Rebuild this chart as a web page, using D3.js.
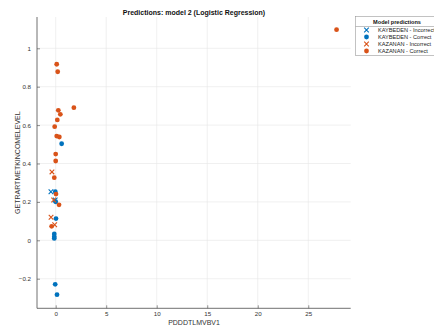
<!DOCTYPE html>
<html><head><meta charset="utf-8">
<script src="https://cdn.jsdelivr.net/npm/d3@7"></script>
<style>body{margin:0;background:#fff}svg{display:block;font-family:"Liberation Sans",Arial,sans-serif}</style>
</head><body>
<svg id="c" width="434" height="333"></svg>
<script>
const xTicks = [0, 5, 10, 15, 20, 25];
const yTicks = [-0.2, 0, 0.2, 0.4, 0.6, 0.8, 1];
const seriesNames = ["KAYBEDEN - Incorrect", "KAYBEDEN - Correct", "KAZANAN - Incorrect", "KAZANAN - Correct"];
const kaybedenIncorrect = [[-0.47, 0.253], [-0.05, 0.21]];
const kaybedenCorrect = [[0.59, 0.503], [-0.04, 0.253], [0.0, 0.201], [0.03, 0.113], [-0.14, 0.033], [-0.14, 0.019], [-0.14, 0.01], [-0.05, -0.229], [0.13, -0.283]];
const kazananIncorrect = [[-0.37, 0.356], [-0.2, 0.21], [-0.46, 0.12], [-0.1, 0.081]];
const kazananCorrect = [[27.8, 1.097], [0.1, 0.917], [0.2, 0.878], [1.8, 0.691], [0.26, 0.677], [0.46, 0.656], [0.16, 0.627], [-0.1, 0.592], [0.1, 0.543], [0.36, 0.538], [0, 0.449], [0, 0.413], [-0.14, 0.326], [0.03, 0.241], [0.33, 0.185], [-0.4, 0.073]];

const BLUE = "#0072BD", ORANGE = "#D95319";
const series = [
  {name: seriesNames[0], data: kaybedenIncorrect, color: BLUE, shape: "x"},
  {name: seriesNames[1], data: kaybedenCorrect, color: BLUE, shape: "o"},
  {name: seriesNames[2], data: kazananIncorrect, color: ORANGE, shape: "x"},
  {name: seriesNames[3], data: kazananCorrect, color: ORANGE, shape: "o"}
];

const svg = d3.select("#c");
const L = 37, R = 350.7, T = 17, B = 308.3;
const x = d3.scaleLinear().domain([-1.85, 29.2]).range([L, R]);
const y = d3.scaleLinear().domain([-0.354, 1.163]).range([B, T]);
const axisCol = "#4d4d4d";

// grid
const g = svg.append("g");
g.selectAll(".gx").data(xTicks).join("line").attr("x1", d => x(d)).attr("x2", d => x(d)).attr("y1", T).attr("y2", B).attr("stroke", "#e6e6e6").attr("stroke-width", 0.6);
g.selectAll(".gy").data(yTicks).join("line").attr("y1", d => y(d)).attr("y2", d => y(d)).attr("x1", L).attr("x2", R).attr("stroke", "#e6e6e6").attr("stroke-width", 0.6);

// axes
const xAxis = d3.axisBottom(x).tickValues(xTicks).tickSizeInner(-3).tickSizeOuter(0).tickPadding(3.5).tickFormat(d3.format("d"));
const yAxis = d3.axisLeft(y).tickValues(yTicks).tickSizeInner(-3).tickSizeOuter(0).tickPadding(6).tickFormat(d => d === 0 ? "0" : (d === 1 ? "1" : d3.format(".1f")(d)));
const gx = svg.append("g").attr("transform", `translate(0,${B})`).call(xAxis);
const gy = svg.append("g").attr("transform", `translate(${L},0)`).call(yAxis);
[gx, gy].forEach(a => {
  a.select(".domain").attr("stroke", axisCol).attr("stroke-width", 0.8);
  a.selectAll(".tick line").attr("stroke", axisCol).attr("stroke-width", 0.6);
  a.selectAll(".tick text").attr("fill", "#333").attr("font-size", 6.2).attr("font-family", "Liberation Sans, Arial, sans-serif");
});
gx.select(".domain").attr("d", `M${L},0H${R}`);
gy.select(".domain").attr("d", `M0,${B}V${T}`);

// labels
svg.append("text").attr("x", 194).attr("y", 15).attr("text-anchor", "middle").attr("font-size", 7).attr("font-weight", "bold").attr("fill", "#111").text("Predictions: model 2 (Logistic Regression)");
svg.append("text").attr("x", 194).attr("y", 324.5).attr("text-anchor", "middle").attr("font-size", 7).attr("fill", "#333").text("PDDDTLMVBV1");
svg.append("text").attr("transform", `translate(20,${(T + B) / 2}) rotate(-90)`).attr("text-anchor", "middle").attr("font-size", 7).attr("fill", "#333").text("GETRARTMETKINCOMELEVEL");

// marks
function drawMarker(sel, shape, color, cx, cy) {
  if (shape === "o") {
    sel.append("circle").attr("cx", cx).attr("cy", cy).attr("r", 2.4).attr("fill", color);
  } else {
    const s = 2.3;
    sel.append("path").attr("d", `M${cx - s},${cy - s}L${cx + s},${cy + s}M${cx - s},${cy + s}L${cx + s},${cy - s}`).attr("stroke", color).attr("stroke-width", 1.1).attr("fill", "none");
  }
}
series.forEach(s => {
  const sg = svg.append("g");
  s.data.forEach(d => drawMarker(sg, s.shape, s.color, x(d[0]), y(d[1])));
});

// legend
const lg = svg.append("g");
lg.append("rect").attr("x", 355.5).attr("y", 16.5).attr("width", 82).attr("height", 39).attr("fill", "#fff").attr("stroke", "#999").attr("stroke-width", 0.6);
lg.append("line").attr("x1", 355.5).attr("x2", 437).attr("y1", 26.5).attr("y2", 26.5).attr("stroke", "#999").attr("stroke-width", 0.6);
lg.append("text").attr("x", 397).attr("y", 23.5).attr("text-anchor", "middle").attr("font-size", 5.6).attr("font-weight", "bold").attr("fill", "#111").text("Model predictions");
series.forEach((s, i) => {
  const yy = 30 + i * 7;
  drawMarker(lg, s.shape, s.color, 366.5, yy);
  lg.append("text").attr("x", 378).attr("y", yy + 2).attr("font-size", 5.6).attr("fill", "#222").text(s.name);
});
</script>
</body></html>
